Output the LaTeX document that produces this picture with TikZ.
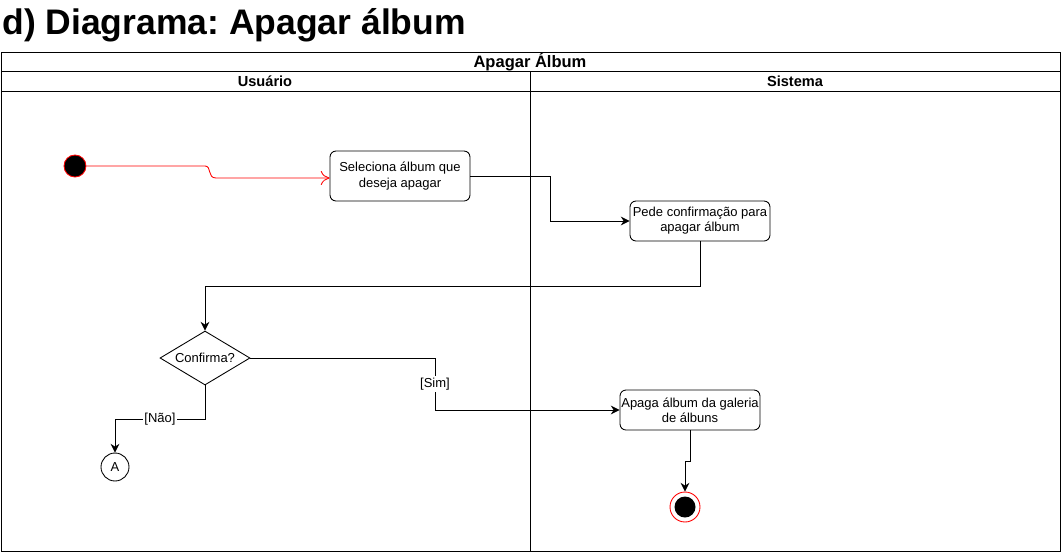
\documentclass[tikz,border=0pt]{standalone}
\usepackage{fontspec}
\setmainfont{Liberation Sans}
\usetikzlibrary{shapes.geometric,arrows.meta}
\frenchspacing

\begin{document}
\begin{tikzpicture}[x=0.02cm,y=-0.02cm,line width=0.5pt,
  every node/.style={inner sep=0pt},
  action/.style={draw,rounded corners=1.2mm,minimum width=2.8cm,align=center,
    font=\fontsize{7.4}{8.6}\selectfont},
  decision/.style={draw,diamond,aspect=1.7,minimum width=1.8cm,minimum height=1.08cm,
    font=\fontsize{7.4}{8.6}\selectfont},
  flow/.style={-{Stealth[length=5pt,width=5pt]}},
  guard/.style={fill=white,inner sep=1pt,font=\fontsize{7.4}{8.6}\selectfont},
  lanehead/.style={font=\bfseries\fontsize{8.3}{9}\selectfont}]
\useasboundingbox (0,0) rectangle (1061,552);
\node[anchor=base west,font=\bfseries\fontsize{20.2}{22}\selectfont] (title) at (2,34) {d) Diagrama: Apagar álbum};
\draw (1,52) rectangle (1060,551);
\draw (1,71) -- (1060,71);
\draw (1,91) -- (1060,91);
\draw (530,71) -- (530,551);
\node[font=\bfseries\fontsize{9.4}{10}\selectfont] (pool) at (530,61.5) {Apagar Álbum};
\node[lanehead] (usuario) at (265,81) {Usuário};
\node[lanehead] (sistema) at (795,81) {Sistema};
\node[circle,draw=red,fill=black,minimum size=0.44cm] (start) at (75,166) {};
\node[action,minimum height=1cm] (seleciona) at (400,176) {Seleciona álbum que\\deseja apagar};
\node[action,minimum height=0.8cm] (pede) at (700,221) {Pede confirmação para\\apagar álbum};
\node[decision] (confirma) at (205,358) {Confirma?};
\node[action,minimum height=0.8cm] (apaga) at (690,410) {Apaga álbum da galeria\\de álbuns};
\node[circle,draw,minimum size=0.56cm,font=\fontsize{7.4}{8.6}\selectfont] (conA) at (115,467) {A};
\node[circle,draw=red,minimum size=0.6cm] (fim) at (685,507) {};
\node[circle,fill=black,minimum size=0.42cm] (fimin) at (fim) {};
\draw[red,-{To[length=5pt,width=8pt]}] (start) -- (205,166) .. controls (212,166) and (207,178) .. (216,178) -- ([yshift=-0.04cm]seleciona.west);
\draw[flow] (seleciona.east) -- (550,176) |- (pede.west);
\draw[flow] (pede.south) -- (700,286) -| (confirma.north);
\draw[flow] (confirma.east) -| (435,410) -- (apaga.west);
\node[guard] (sim) at (435,384) {[Sim]};
\draw[flow] (confirma.south) |- (115,419) -- (conA.north);
\node[guard] (nao) at (160,419) {[Não]};
\draw[flow] (apaga.south) -- (690,461) -| (fim.north);
\end{tikzpicture}
\end{document}
